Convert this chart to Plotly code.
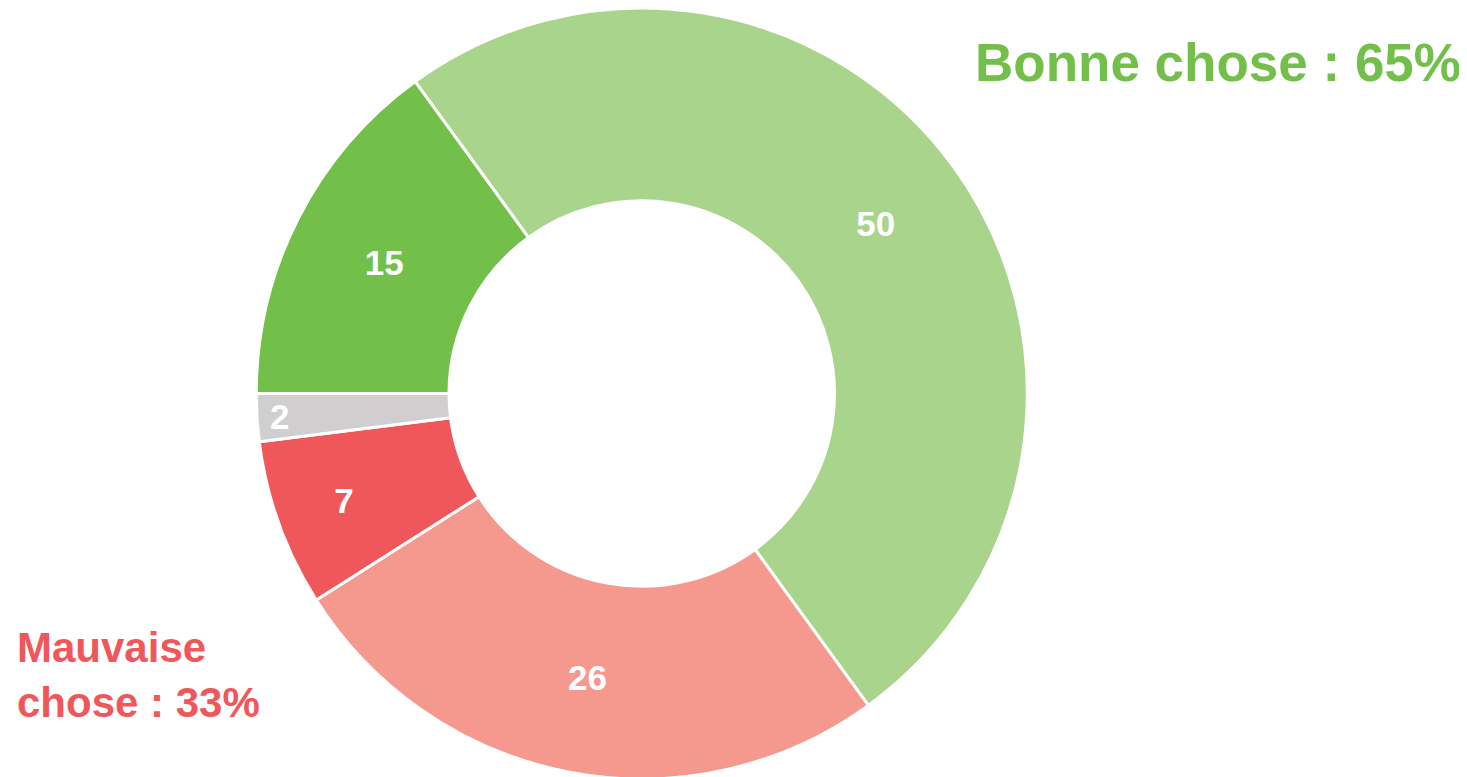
import plotly.graph_objects as go

labels = ["Très bonne chose", "Plutôt mauvaise chose", "Très mauvaise chose", "Ne sait pas", "Plutôt bonne chose"]
values = [50, 26, 7, 2, 15]
colors = ["#A9D48C", "#F5988D", "#F0575B", "#D0CECF", "#72BF4A"]

good_label = "<b>Bonne chose : 65%</b>"
bad_label = "<b>Mauvaise<br>chose : 33%</b>"

fig = go.Figure(go.Pie(
    labels=labels,
    values=values,
    hole=0.5,
    sort=False,
    direction="clockwise",
    rotation=-36,
    marker=dict(colors=colors, line=dict(color="white", width=3)),
    texttemplate="<b>%{value}</b>",
    textposition="inside",
    insidetextorientation="horizontal",
    textfont=dict(family="Liberation Sans", size=35, color="white"),
    domain=dict(x=[0, 0.864], y=[0, 1]),
    showlegend=False,
))

fig.update_layout(
    width=1467,
    height=777,
    margin=dict(l=0, r=0, t=0, b=6),
    paper_bgcolor="white",
    plot_bgcolor="white",
    uniformtext=dict(minsize=35, mode="show"),
    font=dict(family="Liberation Sans"),
    annotations=[
        dict(text=good_label, x=1455 / 1467, y=0.929, xref="paper", yref="paper",
             xanchor="right", yanchor="middle", showarrow=False,
             font=dict(size=53, color="#72BF4A")),
        dict(text=bad_label, x=0.005, y=0.135, xref="paper", yref="paper",
             xanchor="left", yanchor="middle", align="left", showarrow=False,
             font=dict(size=42, color="#F0575B")),
    ],
)

fig.write_html("out.html")
